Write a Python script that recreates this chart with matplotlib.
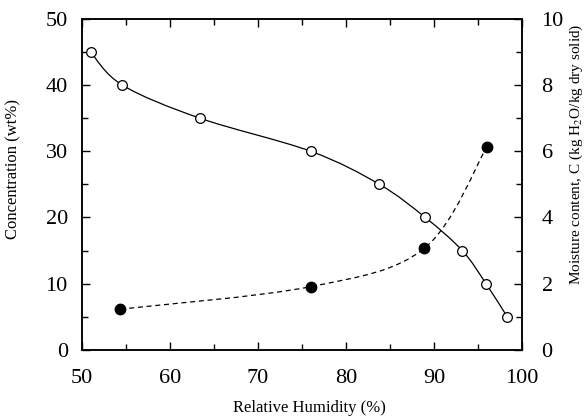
import numpy as np
import matplotlib.pyplot as plt
from matplotlib.path import Path
from matplotlib.patches import PathPatch
from matplotlib.ticker import MultipleLocator

plt.rcParams['font.family'] = ['Liberation Serif', 'DejaVu Serif']
plt.rcParams['mathtext.fontset'] = 'stix'

# open circles: concentration (left axis)
rh_conc = [51.0, 54.6, 63.4, 76.0, 83.8, 89.0, 93.2, 95.9, 98.3]
conc = [45.0, 40.0, 35.0, 30.0, 25.0, 20.0, 15.0, 10.0, 5.0]

# filled circles: moisture content (right axis)
rh_moist = [54.4, 76.0, 88.9, 96.0]
moist = [1.23, 1.91, 3.07, 6.14]


def smooth_path(x, y):
    """Catmull-Rom style bezier path through the given points."""
    x = np.asarray(x, float)
    y = np.asarray(y, float)
    verts = [(x[0], y[0])]
    codes = [Path.MOVETO]
    n = len(x)
    for i in range(n - 1):
        x0, y0 = (x[i - 1], y[i - 1]) if i > 0 else (x[i], y[i])
        x3, y3 = (x[i + 2], y[i + 2]) if i + 2 < n else (x[i + 1], y[i + 1])
        c1 = (x[i] + (x[i + 1] - x0) / 6, y[i] + (y[i + 1] - y0) / 6)
        c2 = (x[i + 1] - (x3 - x[i]) / 6, y[i + 1] - (y3 - y[i]) / 6)
        verts += [c1, c2, (x[i + 1], y[i + 1])]
        codes += [Path.CURVE4] * 3
    return Path(verts, codes)


fig = plt.figure(figsize=(5.88, 4.19), dpi=100)
ax = fig.add_axes([0.139, 0.165, 0.749, 0.79])
ax2 = ax.twinx()

ax.add_patch(PathPatch(smooth_path(rh_conc, conc), fill=False, color='black', lw=0.9))
ax.plot(rh_conc, conc, 'o', mfc='white', mec='black', ms=7, mew=0.9, zorder=3)

ax2.add_patch(PathPatch(smooth_path(rh_moist, moist), fill=False, color='black',
                        lw=0.9, linestyle=(0, (4, 3))))
ax2.plot(rh_moist, moist, 'o', color='black', ms=7.5, zorder=3)

ax.set_xlim(50, 100)
ax.set_ylim(0, 50)
ax2.set_ylim(0, 10)

ax.xaxis.set_major_locator(MultipleLocator(10))
ax.xaxis.set_minor_locator(MultipleLocator(5))
ax.yaxis.set_major_locator(MultipleLocator(10))
ax.yaxis.set_minor_locator(MultipleLocator(5))
ax2.yaxis.set_major_locator(MultipleLocator(2))
ax2.yaxis.set_minor_locator(MultipleLocator(1))

ax.tick_params(which='both', direction='in', top=True, labelsize=16, width=1)
ax.tick_params(which='major', length=6)
ax.tick_params(which='minor', length=4)
ax.tick_params(axis='x', pad=14)
ax.tick_params(axis='y', right=False, pad=10)
ax2.tick_params(which='both', direction='in', labelsize=16, width=1, pad=14)
ax2.tick_params(which='major', length=6)
ax2.tick_params(which='minor', length=4)

for a in (ax, ax2):
    for s in a.spines.values():
        s.set_linewidth(1.1)

ax.set_xlabel('Relative Humidity (%)', fontsize=12)
ax.set_ylabel('Concentration (wt%)', fontsize=12)
ax2.set_ylabel('Moisture content, C (kg H$_2$O/kg dry solid)', fontsize=11)
ax.xaxis.set_label_coords(0.516, -0.15)
ax.yaxis.set_label_coords(-0.136, 0.545)
ax2.yaxis.set_label_coords(1.104, 0.59)

plt.savefig('out.png', dpi=100)
